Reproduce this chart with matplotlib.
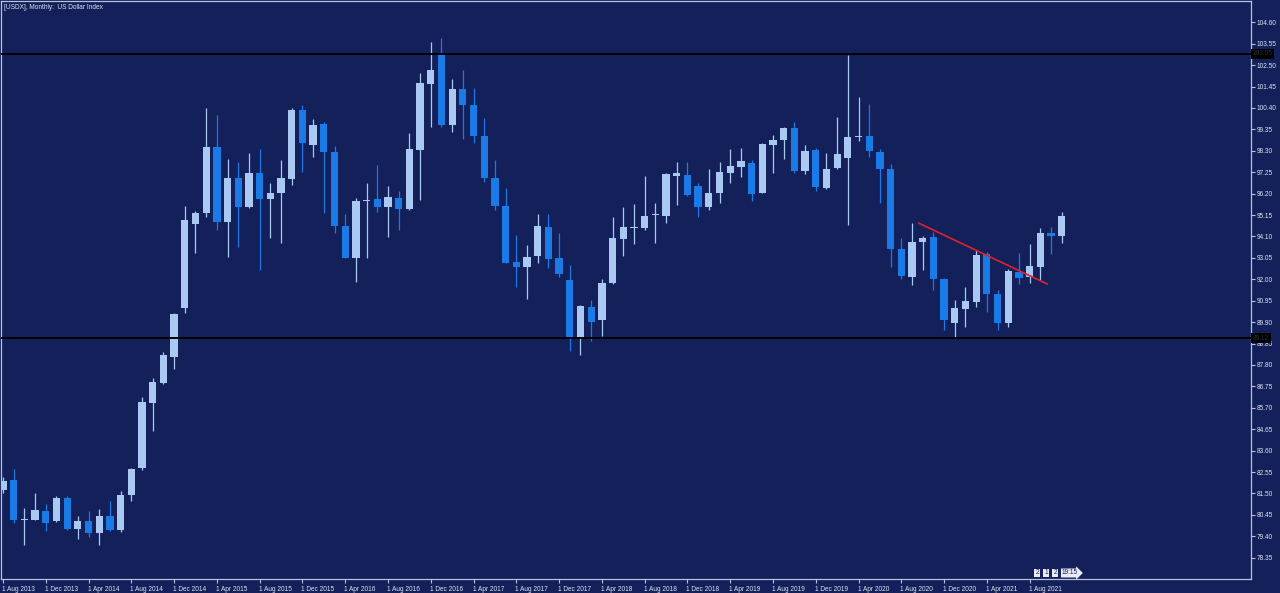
import numpy as np
import pandas as pd
import matplotlib
matplotlib.use("Agg")
import matplotlib.pyplot as plt
import matplotlib.transforms as mtransforms

# ---------------- data (monthly USDX candles, Aug 2013 .. Nov 2021) ----------------
start_month = "2013-08-01"
opens = [81.68, 82.17, 80.22, 80.21, 80.65, 80.16, 81.30, 79.75, 80.16, 79.56,
         80.37, 79.72, 81.43, 82.74, 85.93, 86.91, 88.18, 90.58, 94.71, 95.24,
         98.47, 94.80, 96.98, 95.56, 97.23, 95.93, 96.25, 96.90, 100.30, 98.59,
         99.61, 98.26, 94.62, 93.06, 95.85, 95.93, 95.56, 96.00, 95.45, 98.34,
         101.57, 103.00, 99.57, 101.31, 100.55, 99.04, 96.95, 95.60, 92.84, 92.62,
         93.15, 94.58, 93.06, 91.97, 89.19, 90.66, 89.98, 91.81, 93.98, 94.52,
         94.53, 95.17, 95.12, 97.07, 97.12, 96.58, 95.56, 96.25, 97.20, 97.52,
         97.69, 96.25, 98.57, 98.83, 99.42, 97.33, 98.34, 96.46, 97.44, 97.97,
         98.99, 99.03, 98.26, 97.41, 93.49, 92.13, 93.82, 94.06, 92.00, 89.85,
         90.55, 90.91, 93.23, 91.27, 89.85, 92.38, 92.10, 92.62, 94.29, 94.14]
highs = [82.30, 82.69, 80.78, 81.52, 81.00, 81.39, 81.35, 80.41, 80.65, 80.75,
         81.11, 81.60, 82.76, 86.25, 87.16, 88.43, 90.37, 95.60, 95.37, 100.38,
         100.06, 97.88, 97.77, 98.21, 98.37, 96.74, 97.85, 100.38, 100.55, 99.86,
         99.73, 98.54, 95.20, 95.97, 96.74, 97.60, 96.58, 96.35, 99.16, 102.10,
         103.65, 103.83, 101.80, 102.26, 101.37, 99.89, 97.85, 96.46, 94.18, 93.69,
         95.19, 95.20, 94.29, 92.70, 90.75, 90.99, 92.00, 95.04, 95.53, 95.70,
         97.04, 95.76, 97.23, 97.77, 97.77, 96.74, 97.40, 97.77, 98.37, 98.42,
         97.85, 98.67, 99.08, 99.45, 99.73, 98.59, 98.42, 98.21, 99.94, 103.00,
         100.92, 100.60, 98.37, 97.64, 94.01, 94.78, 94.13, 94.34, 92.05, 90.99,
         91.64, 93.44, 93.36, 91.48, 92.49, 93.28, 93.73, 94.50, 94.58, 95.32]
lows = [81.50, 80.05, 78.99, 80.18, 79.64, 80.08, 79.72, 79.26, 79.36, 78.99,
        79.67, 79.59, 81.13, 82.65, 84.54, 86.85, 87.59, 90.37, 93.28, 95.04,
        94.42, 93.11, 93.60, 95.48, 92.46, 94.01, 93.80, 96.62, 97.28, 98.01,
        95.24, 94.26, 93.03, 91.89, 93.03, 95.32, 94.09, 94.42, 95.42, 95.89,
        99.45, 99.45, 99.24, 98.87, 98.67, 96.79, 95.40, 92.79, 91.64, 91.02,
        92.79, 92.54, 92.13, 88.46, 88.30, 88.95, 89.23, 91.77, 93.15, 93.73,
        94.42, 93.80, 94.78, 95.65, 96.09, 95.04, 95.40, 95.76, 96.74, 97.03,
        95.84, 96.22, 97.23, 97.88, 97.20, 97.17, 96.35, 96.41, 97.41, 94.67,
        98.80, 97.98, 95.73, 92.59, 92.00, 91.73, 92.46, 91.48, 89.52, 89.19,
        89.68, 90.63, 90.42, 89.52, 89.65, 91.77, 91.84, 91.97, 93.24, 93.77]
closes = [82.09, 80.21, 80.26, 80.69, 80.05, 81.27, 79.75, 80.16, 79.56, 80.37,
          79.72, 81.43, 82.69, 85.96, 86.94, 88.30, 90.31, 94.91, 95.27, 98.50,
          94.80, 96.98, 95.56, 97.23, 95.93, 96.25, 96.95, 100.30, 98.67, 99.57,
          98.26, 94.63, 93.06, 95.86, 95.89, 95.56, 96.02, 95.43, 98.37, 101.61,
          102.26, 99.57, 101.31, 100.55, 99.03, 96.95, 95.61, 92.82, 92.62, 93.11,
          94.62, 93.01, 92.26, 89.19, 90.71, 89.91, 91.84, 94.01, 94.54, 94.56,
          95.11, 95.21, 97.15, 97.23, 96.14, 95.56, 96.22, 97.28, 97.56, 97.82,
          96.18, 98.62, 98.83, 99.41, 97.31, 98.29, 96.52, 97.40, 98.13, 98.97,
          99.03, 98.29, 97.39, 93.49, 92.17, 93.85, 94.04, 92.02, 89.98, 90.58,
          90.94, 93.20, 91.28, 89.85, 92.41, 92.08, 92.66, 94.29, 94.13, 95.12]

resistance_level = 103.05
support_level = 89.12
trend_x = [85.65, 97.64]      # bar index positions of the trendline ends
trend_y = [94.75, 91.77]
price_ticks = [round(78.35 + 1.05 * k, 2) for k in range(26)]
label_every = 4
title_text = "[USDX], Monthly:  US Dollar Index"

# ---------------- style ----------------
BG = "#13205a"
FRAME = "#b9c2dc"
TXT = "#dfe4f2"
BULL = "#a9c8f2"
BEAR = "#1a7be6"
FS = 4.7
FAM = ["Liberation Sans", "DejaVu Sans"]

W, H = 1280, 593
fig = plt.figure(figsize=(W / 100, H / 100), dpi=100, facecolor=BG)
ax = fig.add_axes([1 / W, 13.7 / H, 1250 / W, (579.3 - 1) / H])
ax.set_facecolor(BG)

n = len(opens)
x = np.arange(n)
o = np.array(opens); c = np.array(closes); hi = np.array(highs); lo = np.array(lows)
up = c >= o
cols = np.where(up, BULL, BEAR)

ax.vlines(x, lo, hi, colors=cols, linewidth=0.9, zorder=2)
body_bottom = np.minimum(o, c)
body_h = np.maximum(np.abs(c - o), 0.05)
ax.bar(x, body_h, bottom=body_bottom, width=0.68, color=cols, linewidth=0, zorder=3)

ax.axhline(resistance_level, color="black", linewidth=1.4, zorder=4)
ax.axhline(support_level, color="black", linewidth=1.4, zorder=4)
ax.plot(trend_x, trend_y, color="#e0202a", linewidth=1.2, zorder=5)

ax.set_xlim(-0.187, 116.7)
ax.set_ylim(77.29, 105.644)

for s in ax.spines.values():
    s.set_color(FRAME)
    s.set_linewidth(0.9)

# y axis on the right
ax.yaxis.tick_right()
ax.set_yticks(price_ticks)
ax.set_yticklabels([f"{v:.2f}" for v in price_ticks])
ax.tick_params(axis="y", direction="out", length=3, width=0.8, colors=FRAME,
               labelcolor=TXT, labelsize=FS, pad=1)

# x axis
months = pd.date_range(start_month, periods=n, freq="MS")
xt = list(range(0, n, label_every))
ax.set_xticks(xt)
ax.set_xticklabels([f"1 {months[i].strftime('%b %Y')}" for i in xt])
ax.tick_params(axis="x", direction="out", length=3, width=0.8, colors=FRAME,
               labelcolor=TXT, labelsize=FS, pad=1.5)
offset = mtransforms.ScaledTranslation(-1 / 100, 0, fig.dpi_scale_trans)
for lbl in ax.get_xticklabels():
    lbl.set_ha("left")
    lbl.set_transform(lbl.get_transform() + offset)

for lbl in ax.get_xticklabels() + ax.get_yticklabels():
    lbl.set_fontfamily(FAM)

# title
ax.text(3 / W, 1 - 3 / (H - 14), title_text, transform=ax.transAxes, ha="left", va="top",
        color=TXT, fontsize=FS, family=FAM)

# level labels on the price scale
trans = mtransforms.blended_transform_factory(ax.transAxes, ax.transData)
for lvl in (resistance_level, support_level):
    ax.text(1.0015, lvl, f"{lvl:.2f}", transform=trans, ha="left", va="center",
            fontsize=FS, color="#2a2f3a", family=FAM,
            bbox=dict(boxstyle="square,pad=0.25", fc="black", ec="none"), zorder=6,
            clip_on=False)

# small widget at bottom right
wy = 1 - 573 / H
for xp, t in [(1037, "2"), (1046, "1"), (1055, "2")]:
    fig.text(xp / W, wy, t, ha="center", va="center", fontsize=FS, color="#13205a",
             family=FAM, bbox=dict(boxstyle="square,pad=0.15", fc="#e8ecf6", ec="none"))
fig.text(1070 / W, wy, "19:15", ha="center", va="center", fontsize=FS, color="#13205a",
         family=FAM, bbox=dict(boxstyle="rarrow,pad=0.15", fc="#e8ecf6", ec="none"))

fig.savefig("out.png", dpi=100, facecolor=BG)
